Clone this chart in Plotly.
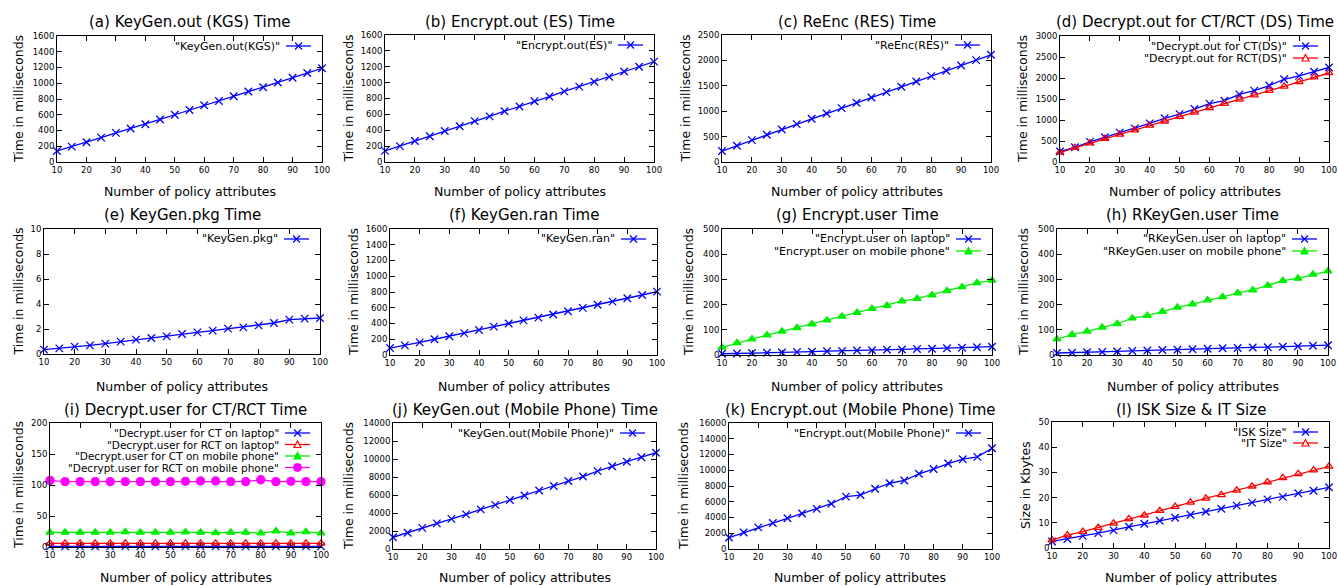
import plotly.graph_objects as go

W, H = 1338, 586

# ---------------- data ----------------
attrs = [10, 15, 20, 25, 30, 35, 40, 45, 50, 55, 60, 65, 70, 75, 80, 85, 90, 95, 100]
x_tick_vals = [10, 20, 30, 40, 50, 60, 70, 80, 90, 100]

keygen_out_kgs = [140, 195, 250, 310, 370, 425, 480, 540, 600, 660, 720, 775, 835, 895, 950, 1010, 1070, 1130, 1190]
encrypt_out_es = [140, 200, 265, 325, 390, 450, 515, 575, 640, 700, 765, 825, 890, 950, 1010, 1075, 1140, 1200, 1265]
reenc_res = [215, 320, 430, 535, 640, 745, 850, 955, 1060, 1165, 1270, 1375, 1480, 1585, 1690, 1795, 1900, 2005, 2110]
decrypt_out_ct = [250, 350, 480, 590, 700, 800, 920, 1040, 1140, 1260, 1390, 1460, 1610, 1700, 1820, 1970, 2050, 2150, 2250]
decrypt_out_rct = [230, 340, 450, 560, 660, 760, 870, 970, 1080, 1180, 1290, 1390, 1490, 1590, 1700, 1800, 1910, 2020, 2120]
keygen_pkg = [0.35, 0.45, 0.59, 0.69, 0.83, 0.99, 1.15, 1.28, 1.41, 1.60, 1.73, 1.87, 2.03, 2.13, 2.29, 2.48, 2.75, 2.83, 2.88]
keygen_ran = [88, 122, 160, 200, 238, 278, 318, 360, 400, 440, 475, 515, 555, 598, 638, 678, 720, 762, 805]
encrypt_user_laptop = [5, 6, 8, 9, 10, 12, 13, 15, 16, 18, 19, 21, 22, 24, 25, 27, 29, 31, 33]
encrypt_user_mobile = [30, 48, 63, 79, 94, 108, 123, 138, 153, 168, 184, 196, 214, 224, 238, 255, 270, 286, 296]
rkeygen_user_laptop = [8, 9, 11, 12, 14, 16, 18, 20, 21, 23, 25, 27, 28, 30, 31, 33, 35, 37, 39]
rkeygen_user_mobile = [63, 81, 94, 110, 124, 146, 156, 172, 189, 202, 218, 231, 246, 258, 276, 295, 304, 320, 333]
decrypt_user_ct_laptop = [1, 1, 1, 1, 1, 1, 1, 1, 1, 1, 1, 1, 1, 1, 1, 1, 1, 1, 1]
decrypt_user_rct_laptop = [6, 6, 6, 6, 6, 6, 6, 6, 6, 6, 6, 6, 6, 6, 6, 6, 6, 6, 6]
decrypt_user_ct_mobile = [23.5, 23.5, 23.5, 23.5, 23.5, 24.5, 23.5, 23.5, 23.5, 24, 23.5, 23, 23.5, 23.5, 22.5, 25.5, 22.5, 24.5, 22.5]
decrypt_user_rct_mobile = [107.5, 105.5, 105.5, 105.5, 105.5, 105.5, 105.5, 105.5, 105.5, 106, 106.5, 106.5, 105.5, 105.5, 108.5, 105.5, 106, 105.5, 105.5]
keygen_out_mobile = [1300, 1800, 2350, 2850, 3350, 3850, 4400, 4900, 5450, 5950, 6500, 7000, 7550, 8050, 8650, 9200, 9700, 10200, 10700]
encrypt_out_mobile = [1450, 2100, 2750, 3300, 3900, 4500, 5100, 5750, 6650, 6850, 7650, 8350, 8700, 9550, 10150, 10850, 11400, 11700, 12800]
isk_size = [2.6, 3.6, 4.8, 5.9, 7.0, 8.4, 9.6, 10.8, 12.0, 13.2, 14.4, 15.6, 16.8, 18.0, 19.3, 20.3, 21.7, 22.7, 24.1]
it_size = [3.1, 5.1, 6.5, 8.1, 9.8, 11.6, 13.0, 14.8, 16.4, 18.1, 19.7, 21.1, 22.9, 24.5, 26.2, 27.8, 29.4, 30.9, 32.4]

panel_titles = [
    "(a) KeyGen.out (KGS) Time", "(b) Encrypt.out (ES) Time", "(c) ReEnc (RES) Time",
    "(d) Decrypt.out for CT/RCT (DS) Time", "(e) KeyGen.pkg Time", "(f) KeyGen.ran Time",
    "(g) Encrypt.user Time", "(h) RKeyGen.user Time", "(i) Decrypt.user for CT/RCT Time",
    "(j) KeyGen.out (Mobile Phone) Time", "(k) Encrypt.out (Mobile Phone) Time", "(l) ISK Size & IT Size",
]
y_labels = ["Time in milliseconds"] * 11 + ["Size in Kbytes"]
y_max = [1600, 1600, 2500, 3000, 10, 1600, 500, 500, 200, 14000, 16000, 50]
y_step = [200, 200, 500, 500, 2, 200, 100, 100, 50, 2000, 2000, 10]
x_label = "Number of policy attributes"

panel_series = [
    [('"KeyGen.out(KGS)"', keygen_out_kgs, "x")],
    [('"Encrypt.out(ES)"', encrypt_out_es, "x")],
    [('"ReEnc(RES)"', reenc_res, "x")],
    [('"Decrypt.out for CT(DS)"', decrypt_out_ct, "x"),
     ('"Decrypt.out for RCT(DS)"', decrypt_out_rct, "tri_open")],
    [('"KeyGen.pkg"', keygen_pkg, "x")],
    [('"KeyGen.ran"', keygen_ran, "x")],
    [('"Encrypt.user on laptop"', encrypt_user_laptop, "x"),
     ('"Encrypt.user on mobile phone"', encrypt_user_mobile, "tri")],
    [('"RKeyGen.user on laptop"', rkeygen_user_laptop, "x"),
     ('"RKeyGen.user on mobile phone"', rkeygen_user_mobile, "tri")],
    [('"Decrypt.user for CT on laptop"', decrypt_user_ct_laptop, "x"),
     ('"Decrypt.user for RCT on laptop"', decrypt_user_rct_laptop, "tri_open"),
     ('"Decrypt.user for CT on mobile phone"', decrypt_user_ct_mobile, "tri"),
     ('"Decrypt.user for RCT on mobile phone"', decrypt_user_rct_mobile, "circle")],
    [('"KeyGen.out(Mobile Phone)"', keygen_out_mobile, "x")],
    [('"Encrypt.out(Mobile Phone)"', encrypt_out_mobile, "x")],
    [('"ISK Size"', isk_size, "x"),
     ('"IT Size"', it_size, "tri_open")],
]

# ---------------- layout / style ----------------
FONT = "DejaVu Sans, Verdana, sans-serif"
# plot rectangles in pixels (left, top, right, bottom)
rects = [
    (57, 36, 322, 162), (385, 35, 654, 162), (722, 35, 991, 162), (1060, 36, 1329, 162),
    (44, 229, 320, 354), (390, 229, 657, 355), (722, 229, 992, 355), (1057, 229, 1328, 355),
    (50, 423, 321, 547), (393, 423, 656, 549), (729, 423, 992, 549), (1052, 422, 1329, 548),
]
ytitle_offset = [38, 37, 37, 37, 26, 37, 34, 34, 32, 45, 46, 27]
title_y = [22, 22, 22, 22, 215, 215, 215, 215, 410, 410, 410, 410]
xtitle_y = [191, 191, 191, 191, 386, 386, 386, 386, 577, 577, 577, 577]
legend_spacing = [11, 11, 11, 12, 11, 11, 12, 12, 11.5, 11, 11, 11]
legend_font = [11, 11, 11, 11, 11, 11, 11, 11, 10.5, 11, 11, 11]

STYLES = {
    "x": dict(color="#0000ff", symbol="x-thin-open", size=7.5, fill=False),
    "tri_open": dict(color="#ff0000", symbol="triangle-up-open", size=7, fill=False),
    "tri": dict(color="#00ee00", symbol="triangle-up", size=7, fill=True),
    "circle": dict(color="#ff00ff", symbol="circle", size=8, fill=True),
}

fig = go.Figure()
layout = dict(
    width=W, height=H, margin=dict(l=0, r=0, t=0, b=0, autoexpand=False),
    paper_bgcolor="white", plot_bgcolor="white", showlegend=False,
    font=dict(family=FONT, color="black"),
)
annotations = []
shapes = []

def px_x(v):
    return v / W

def px_y(v):
    return 1 - v / H

for i in range(12):
    n = i + 1
    xa = "xaxis" if n == 1 else f"xaxis{n}"
    ya = "yaxis" if n == 1 else f"yaxis{n}"
    xr = "x" if n == 1 else f"x{n}"
    yr = "y" if n == 1 else f"y{n}"
    x0, y0, x1, y1 = rects[i]
    common = dict(ticks="inside", ticklen=5, tickwidth=1, tickcolor="black",
                  mirror="ticks", showline=True, linecolor="black", linewidth=1,
                  showgrid=False, zeroline=False, automargin=False,
                  tickfont=dict(family=FONT, size=8.5, color="black"))
    layout[xa] = dict(domain=[px_x(x0), px_x(x1)], anchor=yr, range=[10, 100],
                      tickvals=x_tick_vals, **common)
    layout[ya] = dict(domain=[px_y(y1), px_y(y0)], anchor=xr, range=[0, y_max[i]],
                      tick0=0, dtick=y_step[i], tickformat="d", **common)

    for name, vals, st in panel_series[i]:
        s = STYLES[st]
        fig.add_trace(go.Scatter(
            x=attrs, y=vals, name=name, xaxis=xr, yaxis=yr, mode="lines+markers",
            cliponaxis=False,
            line=dict(color=s["color"], width=1.3),
            marker=dict(symbol=s["symbol"], size=s["size"], color=s["color"],
                        line=dict(color=s["color"], width=1.3)),
        ))

    cx = (x0 + x1) / 2
    cy = (y0 + y1) / 2
    annotations.append(dict(text=panel_titles[i], xref="paper", yref="paper",
                            x=px_x(cx), y=px_y(title_y[i]), xanchor="center", yanchor="middle",
                            showarrow=False, font=dict(family=FONT, size=15)))
    annotations.append(dict(text=x_label, xref="paper", yref="paper",
                            x=px_x(cx), y=px_y(xtitle_y[i]), xanchor="center", yanchor="middle",
                            showarrow=False, font=dict(family=FONT, size=12.5)))
    annotations.append(dict(text=y_labels[i], xref="paper", yref="paper", textangle=-90,
                            x=px_x(x0 - ytitle_offset[i]), y=px_y(cy), xanchor="center",
                            yanchor="middle", showarrow=False, font=dict(family=FONT, size=12.5)))

    # gnuplot-style key: text right-aligned, sample to the right
    for j, (name, vals, st) in enumerate(panel_series[i]):
        s = STYLES[st]
        ry = y0 + 10 + j * legend_spacing[i]
        annotations.append(dict(text=name, xref="paper", yref="paper",
                                x=px_x(x1 - 40), y=px_y(ry), xanchor="right", yanchor="middle",
                                showarrow=False, font=dict(family=FONT, size=legend_font[i])))
        shapes.append(dict(type="line", xref="paper", yref="paper",
                           x0=px_x(x1 - 36), x1=px_x(x1 - 11), y0=px_y(ry), y1=px_y(ry),
                           line=dict(color=s["color"], width=1.3)))
        mx = px_x(x1 - 23.5)
        my = px_y(ry)
        base = dict(xref="paper", yref="paper", xsizemode="pixel", ysizemode="pixel",
                    xanchor=mx, yanchor=my)
        if st == "x":
            shapes.append(dict(type="line", x0=-3.5, x1=3.5, y0=-3.5, y1=3.5,
                               line=dict(color=s["color"], width=1.3), **base))
            shapes.append(dict(type="line", x0=-3.5, x1=3.5, y0=3.5, y1=-3.5,
                               line=dict(color=s["color"], width=1.3), **base))
        elif st in ("tri", "tri_open"):
            shapes.append(dict(type="path", path="M -3.5,-3 L 3.5,-3 L 0,3.5 Z",
                               fillcolor=s["color"] if s["fill"] else "white",
                               line=dict(color=s["color"], width=1.2), **base))
        else:
            shapes.append(dict(type="circle", x0=-4, x1=4, y0=-4, y1=4,
                               fillcolor=s["color"], line=dict(color=s["color"], width=1),
                               **base))

layout["annotations"] = annotations
layout["shapes"] = shapes
fig.update_layout(**layout)
fig.write_html("out.html", config={"displayModeBar": False},
               post_script="document.body.style.margin='0px';document.body.style.overflow='hidden';")
